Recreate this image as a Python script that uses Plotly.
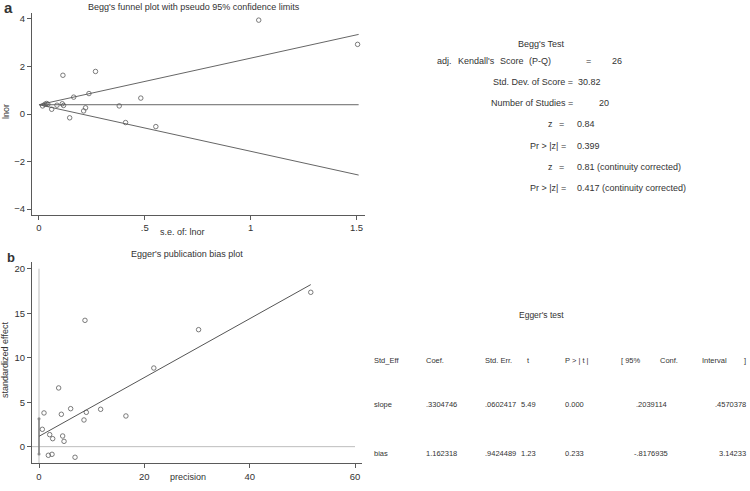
import plotly.graph_objects as go

W, H = 750, 491

# ---------------- data: Begg's funnel ----------------
begg_se = [1.038, 1.505, 0.113, 0.267, 0.164, 0.236, 0.481, 0.379, 0.110, 0.116,
           0.085, 0.060, 0.220, 0.211, 0.145, 0.409, 0.552, 0.017, 0.028, 0.036, 0.042]
begg_lnor = [3.95, 2.93, 1.63, 1.79, 0.71, 0.86, 0.67, 0.34, 0.43, 0.36,
             0.37, 0.20, 0.26, 0.13, -0.16, -0.36, -0.53, 0.34, 0.41, 0.44, 0.41]
begg_theta = 0.39
begg_se_max = 1.51

# ---------------- data: Egger's plot ----------------
egger_prec = [51.6, 30.3, 21.8, 8.73, 3.73, 16.5, 11.7, 8.98, 8.54, 6.01,
              4.24, 0.95, 0.63, 2.03, 2.60, 4.49, 4.75, 1.77, 2.47, 6.84]
egger_eff = [17.35, 13.15, 8.84, 14.2, 6.6, 3.45, 4.2, 3.86, 3.0, 4.27,
             3.64, 3.79, 1.95, 1.35, 0.9, 1.2, 0.6, -0.97, -0.86, -1.19]
egger_slope = 0.3304746
egger_bias = 1.162318
egger_bias_ci = [-0.8176935, 3.14233]

# ---------------- text data ----------------
begg_title = "Begg's funnel plot with pseudo 95% confidence limits"
egger_title = "Egger's publication bias plot"
egger_header = ["Std_Eff", "Coef.", "Std. Err.", "t", "P > | t |"]
egger_slope_row = ["slope", ".3304746", ".0602417", "5.49", "0.000", ".2039114", ".4570378"]
egger_bias_row = ["bias", "1.162318", ".9424489", "1.23", "0.233", "-.8176935", "3.14233"]

FONT = "Liberation Sans, Arial, sans-serif"
TXT = "#333333"
AX = "#5a5a5a"
MK = "#5a5a5a"

def px(x):
    return x / W

def py(y):
    return 1 - y / H

fig = go.Figure()

# Begg funnel
for sgn in (1, -1):
    fig.add_trace(go.Scatter(x=[0, begg_se_max], y=[begg_theta, begg_theta + sgn * 1.96 * begg_se_max],
                             mode="lines", line=dict(color="#666666", width=1), xaxis="x", yaxis="y",
                             showlegend=False, hoverinfo="skip"))
fig.add_trace(go.Scatter(x=[0, begg_se_max], y=[begg_theta, begg_theta],
                         mode="lines", line=dict(color="#666666", width=1), xaxis="x", yaxis="y",
                         showlegend=False, hoverinfo="skip"))
fig.add_trace(go.Scatter(x=begg_se, y=begg_lnor, mode="markers",
                         marker=dict(symbol="circle-open", size=4.5, color=MK, line=dict(width=0.8)),
                         xaxis="x", yaxis="y", showlegend=False))

# Egger
fig.add_trace(go.Scatter(x=[-1.33, 60], y=[0, 0], mode="lines",
                         line=dict(color="#bdbdbd", width=1), xaxis="x2", yaxis="y2",
                         showlegend=False, hoverinfo="skip"))
fig.add_trace(go.Scatter(x=[0, 0], y=[-1.87, 20], mode="lines",
                         line=dict(color="#bdbdbd", width=1), xaxis="x2", yaxis="y2",
                         showlegend=False, hoverinfo="skip"))
fig.add_trace(go.Scatter(x=[0, 0], y=egger_bias_ci, mode="lines+markers",
                         line=dict(color="#666666", width=1.2),
                         marker=dict(symbol="circle", size=3, color="#888888"),
                         xaxis="x2", yaxis="y2", showlegend=False, hoverinfo="skip"))
pmax = max(egger_prec)
fig.add_trace(go.Scatter(x=[0, pmax], y=[egger_bias, egger_bias + egger_slope * pmax],
                         mode="lines", line=dict(color="#555555", width=1),
                         xaxis="x2", yaxis="y2", showlegend=False, hoverinfo="skip"))
fig.add_trace(go.Scatter(x=egger_prec, y=egger_eff, mode="markers",
                         marker=dict(symbol="circle-open", size=4.5, color=MK, line=dict(width=0.8)),
                         xaxis="x2", yaxis="y2", showlegend=False))

axis_common = dict(showline=True, linecolor=AX, linewidth=1, ticks="outside", ticklen=4,
                   tickcolor=AX, tickwidth=1, showgrid=False, zeroline=False,
                   tickfont=dict(family=FONT, size=9.5, color=TXT), mirror=False)

fig.update_layout(
    width=W, height=H, margin=dict(l=0, r=0, t=0, b=0),
    paper_bgcolor="white", plot_bgcolor="white",
    xaxis=dict(domain=[px(32), px(365)], range=[-0.033, 1.540],
               tickvals=[0, 0.5, 1, 1.5], ticktext=["0", ".5", "1", "1.5"],
               anchor="y", **axis_common),
    yaxis=dict(domain=[py(215), py(13)], range=[-4.25, 4.25],
               tickvals=[-4, -2, 0, 2, 4], anchor="x", **axis_common),
    xaxis2=dict(domain=[px(32), px(361.7)], range=[-1.33, 61.27],
                tickvals=[0, 20, 40, 60], anchor="y2", **axis_common),
    yaxis2=dict(domain=[py(463.3), py(261.7)], range=[-1.87, 20.79],
                tickvals=[0, 5, 10, 15, 20], anchor="x2", **axis_common),
)

ann = []

def add(text, x, y, anchor="left", size=9, bold=False, angle=0):
    t = f"<b>{text}</b>" if bold else text
    ann.append(dict(text=t, x=px(x), y=py(y), xref="paper", yref="paper",
                    xanchor=anchor, yanchor="middle", showarrow=False, textangle=angle,
                    font=dict(family=FONT, size=size, color=TXT)))

# panel labels and titles
add("a", 2, 7, size=15, bold=True)
add("b", 5, 257, size=13, bold=True)
add(begg_title, 194, 7.5, anchor="center")
add(egger_title, 187, 254.5, anchor="center")
add("lnor", 6, 112, anchor="center", angle=-90)
add("s.e. of: lnor", 182, 232, anchor="center")
add("standardized effect", 5, 360, anchor="center", angle=-90)
add("precision", 188, 477, anchor="center")

# Begg's test text
add("Begg's Test", 541.3, 43.5, anchor="center")
for word, xx in [("adj.", 435), ("Kendall's", 456), ("Score", 498), ("(P-Q)", 527), ("=", 584), ("26", 610)]:
    add(word, xx, 60.5)
add("Std. Dev. of Score =", 491, 82.5)
add("30.82", 576, 82.5)
add("Number of Studies =", 489, 103.5)
add("20", 596.5, 103.5)
add("z", 545.5, 124.5)
add("=", 557, 124.5)
add("0.84", 575, 124.5)
add("Pr > |z| =", 528, 145.5)
add("0.399", 575, 145.5)
add("z", 545.5, 166.5)
add("=", 557, 166.5)
add("0.81 (continuity corrected)", 575, 166.5)
add("Pr > |z| =", 528, 187.5)
add("0.417 (continuity corrected)", 575, 187.5)

# Egger's test table
TS = 7.5
add("Egger's test", 541.5, 314.5, anchor="center", size=8.5)
hy, sy, by = 360, 404, 453
add(egger_header[0], 372, hy, size=TS)
add(egger_header[1], 424, hy, size=TS)
add(egger_header[2], 483, hy, size=TS)
add(egger_header[3], 528, hy, anchor="center", size=TS)
add(egger_header[4], 563, hy, size=TS)
add("[ 95%", 619, hy, size=TS)
add("Conf.", 658, hy, size=TS)
add("Interval", 700, hy, size=TS)
add("]", 748, hy, anchor="right", size=TS)
for row, yy in [(egger_slope_row, sy), (egger_bias_row, by)]:
    add(row[0], 372, yy, size=TS)
    add(row[1], 424, yy, size=TS)
    add(row[2], 483, yy, size=TS)
    add(row[3], 528, yy, anchor="center", size=TS)
    add(row[4], 563, yy, size=TS)
    add(row[5], 651, yy, anchor="center", size=TS)
    add(row[6], 748, yy, anchor="right", size=TS)

fig.update_layout(annotations=ann)
fig.write_html("out.html", config={"displayModeBar": False},
               post_script="document.body.style.margin='0px';document.body.style.padding='0px';")
